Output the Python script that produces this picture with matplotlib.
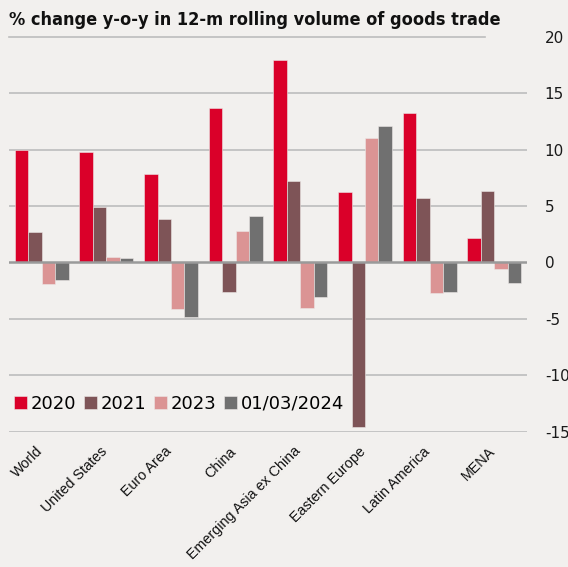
import numpy as np
import matplotlib; matplotlib.use("Agg")
import matplotlib.pyplot as plt
from matplotlib.lines import Line2D
from matplotlib import font_manager as fm
from matplotlib.transforms import ScaledTranslation

plt.rcParams["axes.unicode_minus"] = False

# ---- data ----
regions = ["World", "United States", "Euro Area", "China",
           "Emerging Asia ex China", "Eastern Europe", "Latin America", "MENA"]
series_names = ["2020", "2021", "2023", "01/03/2024"]
v2020 = [10.0, 9.8, 7.8, 13.7, 17.9, 6.2, 13.2, 2.2]
v2021 = [2.65, 4.9, 3.8, -2.6, 7.25, -14.6, 5.7, 6.3]
v2023 = [-1.9, 0.5, -4.15, 2.8, -4.0, 11.0, -2.75, -0.6]
v2024 = [-1.55, 0.4, -4.85, 4.15, -3.1, 12.05, -2.65, -1.85]
yticks = [-15, -10, -5, 0, 5, 10, 15, 20]

colors = ["#da0029", "#7e5457", "#db9494", "#707070"]
BG = "#f2f0ee"

# pick a narrow bold face for the title if one is installed
fonts = fm.fontManager.ttflist
names = {f.name for f in fonts}
title_kw = dict(family="Roboto" if "Roboto" in names else "DejaVu Sans", fontweight="bold")
if "Liberation Sans Narrow" in names:
    title_kw = dict(family="Liberation Sans Narrow", fontweight="bold")
elif any(f.name == "DejaVu Sans" and f.stretch == "condensed" for f in fonts):
    title_kw = dict(family="DejaVu Sans", fontweight="bold", fontstretch="condensed")

fig = plt.figure(figsize=(5.68, 5.67), dpi=100, facecolor=BG)
ax = fig.add_axes([0.0164, 0.2386, 0.9109, 0.6968], facecolor=BG)

x = np.arange(len(regions))
w = 0.208
for i, (vals, c, name) in enumerate(zip([v2020, v2021, v2023, v2024], colors, series_names)):
    ax.bar(x + (i - 1.5) * w, vals, width=w, color=c, label=name,
           edgecolor="#ece8e6", linewidth=0.4, zorder=3)

# gridlines (no line at the top, the title rule sits there)
for t in yticks[:-1]:
    if t == 0:
        ax.axhline(0, color="#9a9a9a", lw=1.8, zorder=4)
    else:
        ax.axhline(t, color="#bdbdbd", lw=1.2, zorder=1)

ax.set_xlim(-0.5, len(regions) - 0.5)
ax.set_ylim(-15, 20)
ax.set_yticks(yticks)
ax.yaxis.tick_right()
ax.tick_params(axis="y", length=0, pad=13, labelsize=11, labelcolor="#1a1a1a")
ax.set_xticks(x)
ax.set_xticklabels(regions, rotation=45, ha="right", va="top",
                   rotation_mode="anchor", fontsize=10.3, family="Liberation Sans",
                   color="#111111")
ax.tick_params(axis="x", length=0, pad=9)
shift = ScaledTranslation(-0.065, 0.0, fig.dpi_scale_trans)
for lbl in ax.get_xticklabels():
    lbl.set_transform(lbl.get_transform() + shift)
for s in ax.spines.values():
    s.set_visible(False)

leg = ax.legend(loc="lower left", bbox_to_anchor=(-0.005, 0.03), ncol=4, frameon=False,
                fontsize=13, handlelength=0.75, handleheight=0.75, handletextpad=0.2,
                columnspacing=0.4, borderaxespad=0)

title = fig.text(0.016, 0.964, "% change y-o-y in 12-m rolling volume of goods trade",
                 fontsize=16, color="#111111", va="center", ha="left", **title_kw)
# shrink the title until it fits the width it has in the reference (~490 px)
r = fig.canvas.get_renderer()
wpx = title.get_window_extent(r).width
if wpx > 492:
    title.set_fontsize(16 * 492 / wpx)

fig.add_artist(Line2D([9 / 568, 485 / 568], [1 - 37 / 567, 1 - 37 / 567],
                      color="#bdbdbd", lw=1.2))

fig.savefig("out.png", dpi=100, facecolor=BG)
